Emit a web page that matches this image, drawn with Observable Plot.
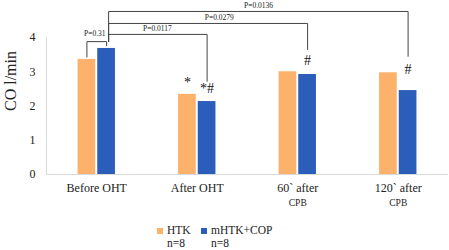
<!DOCTYPE html>
<html>
<head>
<meta charset="utf-8">
<script src="https://cdn.jsdelivr.net/npm/d3@7"></script>
<script src="https://cdn.jsdelivr.net/npm/@observablehq/plot@0.6"></script>
<style>
  html, body { margin: 0; padding: 0; background: #fff; }
  #wrap { position: relative; width: 449px; height: 250px; font-family: "Liberation Serif", "Times New Roman", serif; }
  .lg { position: absolute; font-size: 11.5px; line-height: 13px; color: #222; white-space: nowrap; }
  .sw { position: absolute; width: 6px; height: 6px; }
</style>
</head>
<body>
<div id="wrap"></div>
<script>
// ---- data ----
const categories = ["Before OHT", "After OHT", "60` after", "120` after"];
const subLabels = ["", "", "CPB", "CPB"];
const series = ["HTK", "mHTK+COP"];
const htk = [3.36, 2.34, 3.00, 2.97];
const mhtk = [3.68, 2.13, 2.92, 2.45];
const yTicks = [0, 1, 2, 3, 4];
const yLabel = "CO l/min";
const legendN = ["n=8", "n=8"];
// significance brackets: from group 0 (mHTK) to group `to` (mHTK)
const pLabels = ["P=0.0117", "P=0.0279", "P=0.0136"];
const pTo = [1, 2, 3];
const pLevel = [4.09, 4.41, 4.76];
const pEndY = [2.72, 3.65, 3.45];
const shortP = "P=0.31";
const markerText = ["*", "*#", "#", "#"];
const markerGroup = [1, 1, 2, 3];
const markerSeries = [0, 1, 1, 1];

// ---- style constants ----
const colors = ["#FDB26C", "#2B5DBA"];
const barW = 0.176, gap = 0.02;
const serOff = [-(barW / 2 + gap / 2), barW / 2 + gap / 2];
const markerDy = [-12, -13.5, -13.5, -21.5];
const pLabelPos = [0.604, 1.22, 1.61];

const bars = [];
categories.forEach((c, i) => {
  bars.push({i, s: 0, v: htk[i]});
  bars.push({i, s: 1, v: mhtk[i]});
});

const startX = serOff[1] + 0.02;
const brackets = [];
pLabels.forEach((lab, k) => {
  const endX = pTo[k] + serOff[1];
  const top0 = 3.88;
  brackets.push({k, x: startX, y: top0});
  brackets.push({k, x: startX, y: pLevel[k]});
  brackets.push({k, x: endX, y: pLevel[k]});
  brackets.push({k, x: endX, y: pEndY[k]});
});
const shortBracket = [
  {x: serOff[0], y: htk[0] + 0.07},
  {x: serOff[0], y: 3.88},
  {x: serOff[1], y: 3.88},
  {x: serOff[1], y: mhtk[0] + 0.08}
];

const markerMarks = markerText.map((t, k) => Plot.text([{
  t, x: markerGroup[k] + serOff[markerSeries[k]],
  y: markerSeries[k] === 0 ? htk[markerGroup[k]] : mhtk[markerGroup[k]]
}], {x: "x", y: "y", text: "t", dy: markerDy[k], fontSize: 14, fill: "#111"}));

const font = "Liberation Serif, Times New Roman, serif";

const plot = Plot.plot({
  width: 449,
  height: 214,
  marginLeft: 46,
  marginRight: 1,
  marginTop: 37,
  marginBottom: 40,
  style: {fontFamily: font, fontSize: "12px", color: "#222", background: "#fff"},
  x: {domain: [-0.5, categories.length - 0.5]},
  y: {domain: [0, 4]},
  marks: [
    Plot.ruleX([-0.5], {stroke: "#d9d9d9"}),
    Plot.rectY(bars, {
      x1: d => d.i + serOff[d.s] - barW / 2,
      x2: d => d.i + serOff[d.s] + barW / 2,
      y1: 0, y2: "v",
      fill: d => colors[d.s]
    }),
    Plot.ruleY([0], {stroke: "#d9d9d9"}),
    Plot.axisY({ticks: yTicks, tickFormat: d3.format("d"), tickSize: 0, tickPadding: 11, fontSize: 12, label: null}),
    Plot.text([yLabel], {frameAnchor: "left", rotate: -90, dx: -36, dy: 5, fontSize: 16, fill: "#222"}),
    Plot.axisX({ticks: d3.range(categories.length), tickFormat: i => categories[i],
      tickSize: 0, tickPadding: 9, fontSize: 12, label: null}),
    Plot.text(subLabels.map((s, i) => ({s, i})), {x: "i", y: 0, text: "s", dy: 28, fontSize: 9.5, fill: "#222"}),
    Plot.line(brackets, {x: "x", y: "y", z: "k", stroke: "#444", strokeWidth: 1}),
    Plot.line(shortBracket, {x: "x", y: "y", stroke: "#444", strokeWidth: 1}),
    Plot.text(pLabels.map((t, k) => ({t, x: pLabelPos[k], y: pLevel[k]})), {x: "x", y: "y", text: "t", dy: -6, fontSize: 7.5, fill: "#222"}),
    Plot.text([{t: shortP, x: 0, y: 3.88}], {x: "x", y: "y", text: "t", dx: -2, dy: -8, fontSize: 7.5, fill: "#222"}),
    ...markerMarks
  ]
});

const wrap = document.getElementById("wrap");
wrap.appendChild(plot);
const lx = [167, 211];
series.forEach((s, k) => {
  const sw = document.createElement("div");
  sw.className = "sw";
  sw.style.left = (lx[k] - 10) + "px";
  sw.style.top = "228px";
  sw.style.background = colors[k];
  wrap.appendChild(sw);
  const a = document.createElement("div");
  a.className = "lg";
  a.style.left = lx[k] + "px";
  a.style.top = "224px";
  a.textContent = s;
  wrap.appendChild(a);
  const b = document.createElement("div");
  b.className = "lg";
  b.style.left = lx[k] + "px";
  b.style.top = "237px";
  b.textContent = legendN[k];
  wrap.appendChild(b);
});
</script>
</body>
</html>
